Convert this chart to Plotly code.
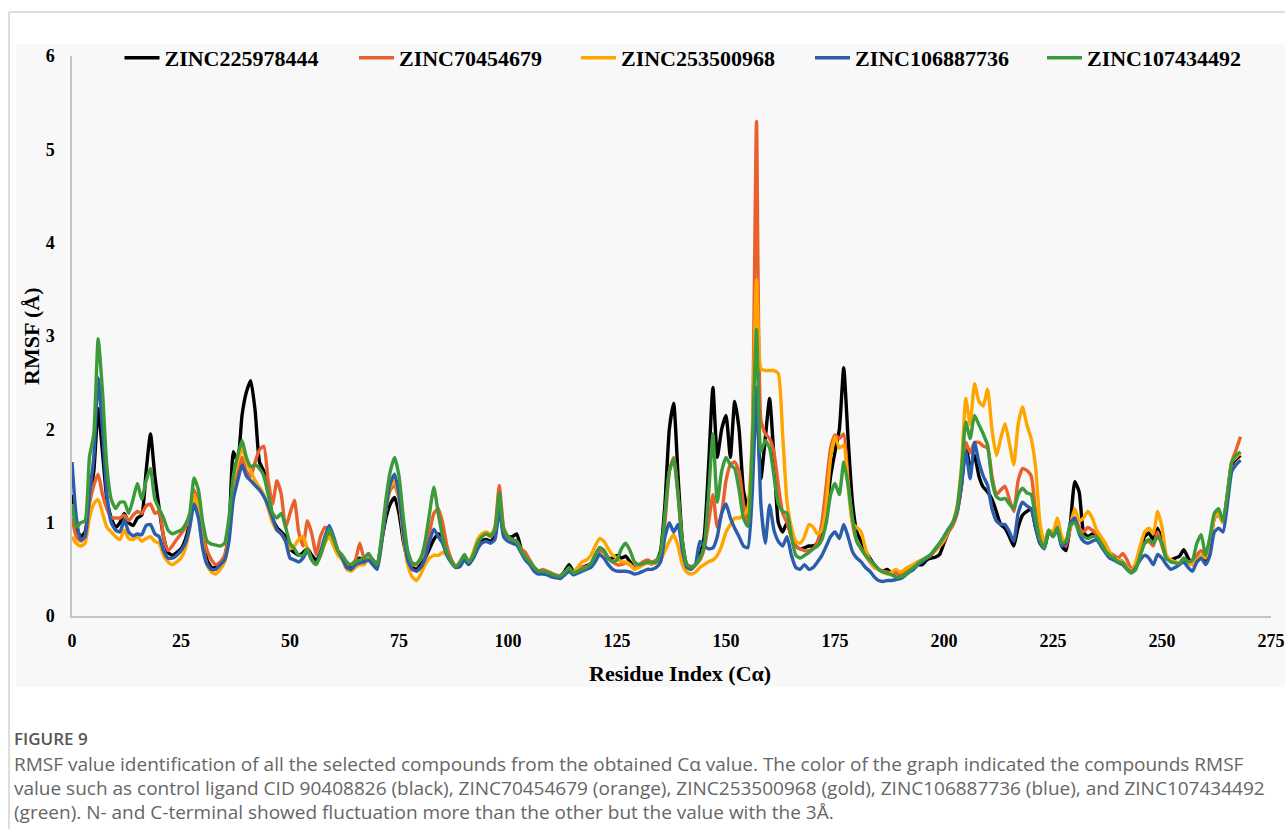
import plotly.graph_objects as go

residues = list(range(0, 269))

zinc225978444 = [
    1.30,0.95,0.85,0.90,1.25,1.55,2.22,1.75,1.25,1.05,
    0.95,1.00,1.10,1.00,0.97,1.05,1.08,1.55,1.95,1.50,
    1.15,0.85,0.68,0.65,0.68,0.72,0.82,1.00,1.30,1.20,
    0.85,0.60,0.52,0.52,0.55,0.62,0.90,1.76,1.65,2.15,
    2.40,2.52,2.20,1.65,1.55,1.35,1.05,0.95,0.90,0.85,
    0.72,0.68,0.65,0.68,0.72,0.65,0.60,0.68,0.82,0.90,
    0.80,0.68,0.62,0.55,0.52,0.58,0.62,0.58,0.62,0.60,
    0.55,0.80,1.05,1.20,1.27,1.10,0.80,0.60,0.52,0.50,
    0.55,0.62,0.72,0.82,0.88,0.85,0.72,0.60,0.53,0.55,
    0.62,0.56,0.62,0.72,0.80,0.82,0.80,0.85,1.20,0.88,
    0.85,0.85,0.88,0.72,0.62,0.58,0.52,0.48,0.48,0.47,
    0.45,0.43,0.43,0.48,0.55,0.48,0.48,0.52,0.54,0.56,
    0.65,0.73,0.70,0.62,0.62,0.65,0.62,0.64,0.58,0.52,
    0.53,0.56,0.57,0.56,0.58,0.70,1.20,2.00,2.28,1.50,
    0.80,0.55,0.52,0.55,0.65,0.85,1.60,2.45,1.70,2.00,
    2.15,1.70,2.30,2.00,1.35,1.15,1.60,2.30,1.47,1.90,
    2.33,1.70,1.00,0.90,1.00,0.85,0.75,0.72,0.73,0.75,
    0.75,0.78,0.85,1.10,1.50,1.76,2.00,2.66,1.90,1.22,
    0.90,0.80,0.70,0.62,0.55,0.50,0.48,0.50,0.45,0.47,
    0.44,0.45,0.50,0.52,0.55,0.55,0.60,0.62,0.63,0.66,
    0.78,0.90,0.98,1.12,1.40,1.85,1.58,1.72,1.50,1.38,
    1.33,1.25,1.12,0.98,0.94,0.85,0.75,0.95,1.08,1.12,
    1.15,0.95,0.78,0.73,0.90,0.87,0.95,0.75,0.70,1.00,
    1.44,1.33,0.90,0.85,0.88,0.85,0.78,0.70,0.65,0.62,
    0.60,0.58,0.52,0.48,0.55,0.70,0.85,0.89,0.82,0.94,
    0.80,0.62,0.60,0.62,0.64,0.71,0.62,0.55,0.60,0.65,
    0.60,0.75,1.05,1.10,1.00,1.30,1.62,1.68,1.72,
]

zinc70454679 = [
    1.05,0.85,0.80,0.85,1.20,1.40,1.52,1.30,1.15,1.05,
    1.05,1.05,1.08,1.02,1.08,1.12,1.10,1.18,1.20,1.10,
    1.12,0.85,0.70,0.75,0.82,0.88,0.95,1.05,1.35,1.20,
    0.90,0.70,0.60,0.55,0.58,0.65,0.90,1.40,1.55,1.70,
    1.55,1.50,1.65,1.78,1.82,1.45,1.20,1.45,1.30,0.95,
    1.10,1.24,0.90,0.75,1.02,0.88,0.66,0.85,0.95,0.92,
    0.78,0.68,0.62,0.55,0.55,0.60,0.78,0.62,0.60,0.58,
    0.55,0.80,1.15,1.35,1.40,1.25,0.90,0.65,0.55,0.55,
    0.62,0.72,0.90,1.10,1.15,1.00,0.75,0.60,0.53,0.55,
    0.62,0.58,0.65,0.78,0.85,0.88,0.85,0.95,1.40,0.95,
    0.85,0.82,0.80,0.72,0.68,0.60,0.52,0.48,0.50,0.48,
    0.46,0.44,0.43,0.47,0.50,0.46,0.50,0.52,0.53,0.56,
    0.62,0.70,0.68,0.62,0.58,0.55,0.55,0.57,0.55,0.52,
    0.55,0.58,0.60,0.58,0.60,0.65,1.00,1.55,1.70,1.30,
    0.75,0.55,0.53,0.55,0.60,0.72,1.00,1.30,0.95,1.10,
    1.45,1.62,1.65,1.55,1.20,1.00,1.80,5.30,2.10,1.95,
    1.90,1.75,1.40,1.10,1.00,0.85,0.75,0.72,0.70,0.70,
    0.72,0.80,1.00,1.40,1.80,1.94,1.90,1.95,1.45,1.00,
    0.80,0.72,0.65,0.58,0.52,0.50,0.48,0.47,0.45,0.46,
    0.45,0.48,0.52,0.55,0.58,0.60,0.62,0.65,0.70,0.75,
    0.80,0.90,0.97,1.10,1.40,1.86,1.75,1.86,1.86,1.82,
    1.80,1.50,1.30,1.35,1.39,1.25,1.12,1.45,1.58,1.56,
    1.50,1.12,0.85,0.75,0.92,0.87,0.95,0.80,0.75,0.95,
    1.05,0.95,0.90,0.95,0.92,0.88,0.82,0.75,0.68,0.65,
    0.62,0.67,0.60,0.50,0.55,0.65,0.78,0.80,0.75,0.90,
    0.75,0.62,0.60,0.58,0.57,0.62,0.58,0.55,0.65,0.70,
    0.65,0.80,1.05,1.08,1.00,1.30,1.65,1.78,1.92,
]

zinc253500968 = [
    0.85,0.78,0.75,0.78,1.05,1.20,1.25,1.10,0.95,0.90,
    0.85,0.82,0.92,0.83,0.82,0.85,0.80,0.83,0.85,0.80,
    0.78,0.65,0.58,0.55,0.58,0.62,0.72,0.95,1.30,1.15,
    0.75,0.55,0.47,0.45,0.50,0.58,0.85,1.45,1.65,1.80,
    1.65,1.55,1.45,1.38,1.30,1.15,1.00,0.92,0.88,0.80,
    0.72,0.75,0.82,0.85,0.72,0.60,0.55,0.65,0.78,0.85,
    0.75,0.65,0.60,0.50,0.48,0.52,0.55,0.55,0.62,0.55,
    0.52,0.80,1.15,1.38,1.45,1.25,0.85,0.55,0.42,0.38,
    0.45,0.55,0.62,0.65,0.65,0.68,0.65,0.58,0.52,0.55,
    0.62,0.57,0.68,0.82,0.88,0.90,0.88,0.90,1.15,0.88,
    0.82,0.80,0.78,0.70,0.62,0.57,0.50,0.47,0.48,0.47,
    0.45,0.43,0.43,0.46,0.50,0.47,0.52,0.58,0.60,0.65,
    0.75,0.83,0.80,0.72,0.65,0.62,0.58,0.58,0.55,0.50,
    0.52,0.55,0.57,0.56,0.57,0.60,0.70,0.80,0.87,0.75,
    0.55,0.47,0.45,0.47,0.52,0.55,0.58,0.60,0.65,0.75,
    0.90,0.98,1.05,1.05,1.08,1.15,1.90,3.60,2.65,2.63,
    2.63,2.63,2.60,1.94,1.22,0.95,0.80,0.78,0.85,0.98,
    0.95,0.88,0.92,1.20,1.70,1.92,1.80,1.83,1.40,1.00,
    0.95,0.90,0.72,0.60,0.52,0.50,0.47,0.45,0.47,0.50,
    0.47,0.50,0.53,0.55,0.58,0.60,0.62,0.66,0.70,0.75,
    0.82,0.92,1.00,1.18,1.60,2.33,2.05,2.49,2.30,2.25,
    2.43,2.00,1.72,1.90,2.06,1.85,1.62,2.05,2.24,2.05,
    1.90,1.60,1.00,0.78,0.92,0.90,1.05,0.85,0.78,0.98,
    1.15,1.02,1.05,1.12,1.05,0.92,0.85,0.78,0.68,0.62,
    0.60,0.58,0.52,0.48,0.58,0.75,0.90,0.94,0.88,1.12,
    0.95,0.65,0.60,0.58,0.57,0.60,0.57,0.55,0.60,0.65,
    0.62,0.78,1.05,1.10,1.00,1.30,1.65,1.70,1.75,
]

zinc106887736 = [
    1.65,1.05,0.82,0.85,1.30,1.70,2.55,2.00,1.30,1.00,
    0.92,0.90,1.03,0.90,0.86,0.88,0.87,0.97,0.98,0.88,
    0.85,0.70,0.62,0.62,0.65,0.70,0.78,0.95,1.20,1.05,
    0.72,0.55,0.50,0.50,0.55,0.60,0.80,1.25,1.45,1.62,
    1.50,1.45,1.40,1.35,1.28,1.18,1.05,0.92,0.88,0.80,
    0.62,0.60,0.58,0.62,0.70,0.60,0.56,0.68,0.85,0.97,
    0.85,0.70,0.62,0.52,0.50,0.55,0.57,0.58,0.60,0.55,
    0.50,0.78,1.15,1.42,1.52,1.30,0.90,0.60,0.50,0.48,
    0.52,0.62,0.80,0.93,0.85,0.78,0.65,0.57,0.52,0.53,
    0.60,0.55,0.62,0.72,0.78,0.80,0.78,0.82,1.15,0.85,
    0.80,0.78,0.76,0.68,0.60,0.55,0.48,0.45,0.45,0.44,
    0.42,0.41,0.40,0.44,0.48,0.44,0.46,0.48,0.50,0.52,
    0.58,0.66,0.62,0.55,0.50,0.48,0.48,0.48,0.47,0.45,
    0.46,0.48,0.50,0.50,0.52,0.58,0.85,1.00,0.90,0.98,
    0.70,0.52,0.50,0.55,0.80,0.75,0.72,0.73,0.85,1.10,
    1.20,1.05,0.94,0.85,0.75,0.73,1.30,2.45,1.20,0.78,
    1.19,0.92,0.80,0.75,0.85,0.65,0.52,0.50,0.55,0.50,
    0.52,0.58,0.65,0.75,0.85,0.90,0.83,0.98,0.85,0.69,
    0.62,0.58,0.52,0.48,0.42,0.38,0.37,0.38,0.38,0.39,
    0.40,0.43,0.47,0.50,0.55,0.58,0.62,0.66,0.72,0.78,
    0.85,0.93,1.00,1.12,1.40,1.76,1.47,1.86,1.65,1.50,
    1.40,1.15,1.02,0.98,0.98,0.90,0.80,1.10,1.22,1.18,
    1.15,0.95,0.78,0.72,0.90,0.85,0.92,0.75,0.78,1.00,
    1.05,0.88,0.80,0.78,0.80,0.82,0.75,0.68,0.62,0.60,
    0.57,0.55,0.50,0.47,0.52,0.60,0.65,0.62,0.55,0.66,
    0.62,0.55,0.50,0.52,0.55,0.58,0.52,0.48,0.58,0.62,
    0.55,0.65,0.90,0.94,0.90,1.20,1.55,1.62,1.67,
]

zinc107434492 = [
    1.20,0.95,1.00,1.02,1.70,1.95,2.97,2.40,1.60,1.25,
    1.15,1.22,1.22,1.10,1.25,1.42,1.25,1.45,1.58,1.25,
    1.15,1.05,0.92,0.88,0.90,0.92,0.98,1.10,1.48,1.35,
    1.00,0.80,0.77,0.76,0.75,0.78,1.05,1.50,1.72,1.88,
    1.70,1.60,1.62,1.58,1.50,1.30,1.10,1.05,1.10,0.95,
    0.78,0.72,0.65,0.65,0.72,0.60,0.55,0.65,0.80,0.93,
    0.82,0.70,0.65,0.58,0.55,0.58,0.60,0.62,0.67,0.60,
    0.55,0.85,1.25,1.55,1.70,1.50,1.05,0.70,0.57,0.56,
    0.62,0.80,1.10,1.38,1.10,0.85,0.68,0.58,0.53,0.58,
    0.66,0.58,0.65,0.78,0.85,0.88,0.86,0.92,1.32,0.92,
    0.85,0.82,0.80,0.70,0.63,0.58,0.52,0.48,0.48,0.47,
    0.45,0.43,0.43,0.46,0.52,0.46,0.48,0.50,0.52,0.56,
    0.65,0.73,0.70,0.62,0.58,0.60,0.72,0.78,0.70,0.58,
    0.55,0.56,0.58,0.57,0.58,0.68,1.10,1.55,1.68,1.30,
    0.80,0.55,0.52,0.55,0.62,0.75,1.30,1.95,1.22,1.55,
    1.70,1.62,1.58,1.35,1.05,0.96,1.80,3.07,1.76,1.88,
    1.80,1.50,1.20,1.12,1.10,0.85,0.65,0.62,0.65,0.68,
    0.72,0.75,0.82,1.00,1.30,1.42,1.30,1.65,1.40,1.05,
    0.80,0.72,0.65,0.60,0.55,0.50,0.47,0.46,0.44,0.42,
    0.42,0.44,0.48,0.52,0.56,0.60,0.63,0.66,0.72,0.78,
    0.85,0.93,1.00,1.15,1.55,2.08,1.90,2.15,2.05,1.95,
    1.83,1.45,1.28,1.25,1.26,1.20,1.15,1.30,1.37,1.32,
    1.30,1.05,0.82,0.73,0.92,0.85,0.95,0.78,0.80,0.98,
    1.00,0.90,0.85,0.83,0.85,0.85,0.78,0.70,0.65,0.62,
    0.58,0.57,0.50,0.46,0.50,0.65,0.78,0.82,0.78,0.85,
    0.78,0.62,0.58,0.57,0.56,0.62,0.58,0.60,0.78,0.87,
    0.65,0.85,1.10,1.15,1.02,1.30,1.65,1.72,1.76,
]

series_names = ["ZINC225978444", "ZINC70454679", "ZINC253500968",
                "ZINC106887736", "ZINC107434492"]
series_values = [zinc225978444, zinc70454679, zinc253500968,
                 zinc106887736, zinc107434492]
series_colors = ["#000000", "#E8612C", "#FFA500", "#2C5DAA", "#3C9A3A"]
legend_ids = ["legend", "legend2", "legend3", "legend4", "legend5"]
legend_left_px = [119.5, 354, 576, 810, 1042]

x_ticks = [0, 25, 50, 75, 100, 125, 150, 175, 200, 225, 250, 275]
y_ticks = [0, 1, 2, 3, 4, 5, 6]

caption_title = "FIGURE 9"
caption_lines = [
    "RMSF value identification of all the selected compounds from the obtained C\u03b1 value. The color of the graph indicated the compounds RMSF",
    "value such as control ligand CID 90408826 (black), ZINC70454679 (orange), ZINC253500968 (gold), ZINC106887736 (blue), and ZINC107434492",
    "(green). N- and C-terminal showed fluctuation more than the other but the value with the 3\u00c5.",
]

W, H = 1285, 829
ML, MR, MT, MB = 72, 14, 56, 213
PW, PH = W - ML - MR, H - MT - MB


def px(xp):
    return (xp - ML) / PW


def py(yp):
    return (H - MB - yp) / PH


fig = go.Figure()
for name, vals, col, lg in zip(series_names, series_values, series_colors, legend_ids):
    fig.add_trace(go.Scatter(
        x=residues, y=vals, name=name, mode="lines", legend=lg,
        line=dict(color=col, width=3.4, shape="spline", smoothing=0.5),
    ))

serif = "Liberation Serif, Times New Roman, serif"

legend_layouts = {}
for lg, lx in zip(legend_ids, legend_left_px):
    legend_layouts[lg] = dict(
        orientation="h", x=px(lx), xanchor="left", y=py(58), yanchor="middle",
        font=dict(family=serif, size=22, color="black", weight="bold"),
        bgcolor="rgba(0,0,0,0)", itemwidth=35,
    )

fig.update_layout(
    width=W, height=H,
    margin=dict(l=ML, r=MR, t=MT, b=MB, autoexpand=False),
    paper_bgcolor="white",
    plot_bgcolor="rgba(0,0,0,0)",
    showlegend=True,
    xaxis=dict(
        range=[0, 275], tickvals=x_ticks, showgrid=False, zeroline=False,
        showline=True, linecolor="#c4c4c4", linewidth=1.5,
        ticks="outside", ticklen=8, tickcolor="rgba(0,0,0,0)",
        tickfont=dict(family=serif, size=18, color="black", weight="bold"),
    ),
    yaxis=dict(
        range=[0, 6], tickvals=y_ticks, showgrid=False, zeroline=False,
        showline=True, linecolor="#c4c4c4", linewidth=1.5,
        ticks="outside", ticklen=12, tickcolor="rgba(0,0,0,0)",
        tickfont=dict(family=serif, size=18, color="black", weight="bold"),
    ),
    shapes=[
        dict(type="rect", xref="paper", yref="paper", layer="below",
             x0=px(16), x1=px(W + 2), y0=py(687), y1=py(44),
             fillcolor="#f8f8f8", line=dict(width=0)),
        dict(type="line", xref="paper", yref="paper",
             x0=px(9), x1=px(W + 2), y0=py(12), y1=py(12),
             line=dict(color="#d2d2d2", width=1.5)),
        dict(type="line", xref="paper", yref="paper",
             x0=px(9), x1=px(9), y0=py(12), y1=py(H + 2),
             line=dict(color="#d2d2d2", width=1.5)),
    ],
    annotations=[
        dict(text="Residue Index (C\u03b1)", xref="paper", yref="paper",
             x=px(680), y=py(673), xanchor="center", yanchor="middle",
             showarrow=False,
             font=dict(family=serif, size=22, color="black", weight="bold")),
        dict(text="RMSF (\u00c5)", xref="paper", yref="paper",
             x=px(31), y=py(336), xanchor="center", yanchor="middle",
             textangle=-90, showarrow=False,
             font=dict(family=serif, size=22, color="black", weight="bold")),
        dict(text=caption_title, xref="paper", yref="paper",
             x=px(12), y=py(738), xanchor="left", yanchor="middle",
             showarrow=False,
             font=dict(family="Open Sans", size=17, color="#555555", weight=600)),
    ] + [
        dict(text=line, xref="paper", yref="paper",
             x=px(12), y=py(764 + 24 * i), xanchor="left", yanchor="middle",
             showarrow=False,
             font=dict(family="Open Sans", size=19, color="#666666"))
        for i, line in enumerate(caption_lines)
    ],
    **legend_layouts,
)

fig.write_html("out.html")
